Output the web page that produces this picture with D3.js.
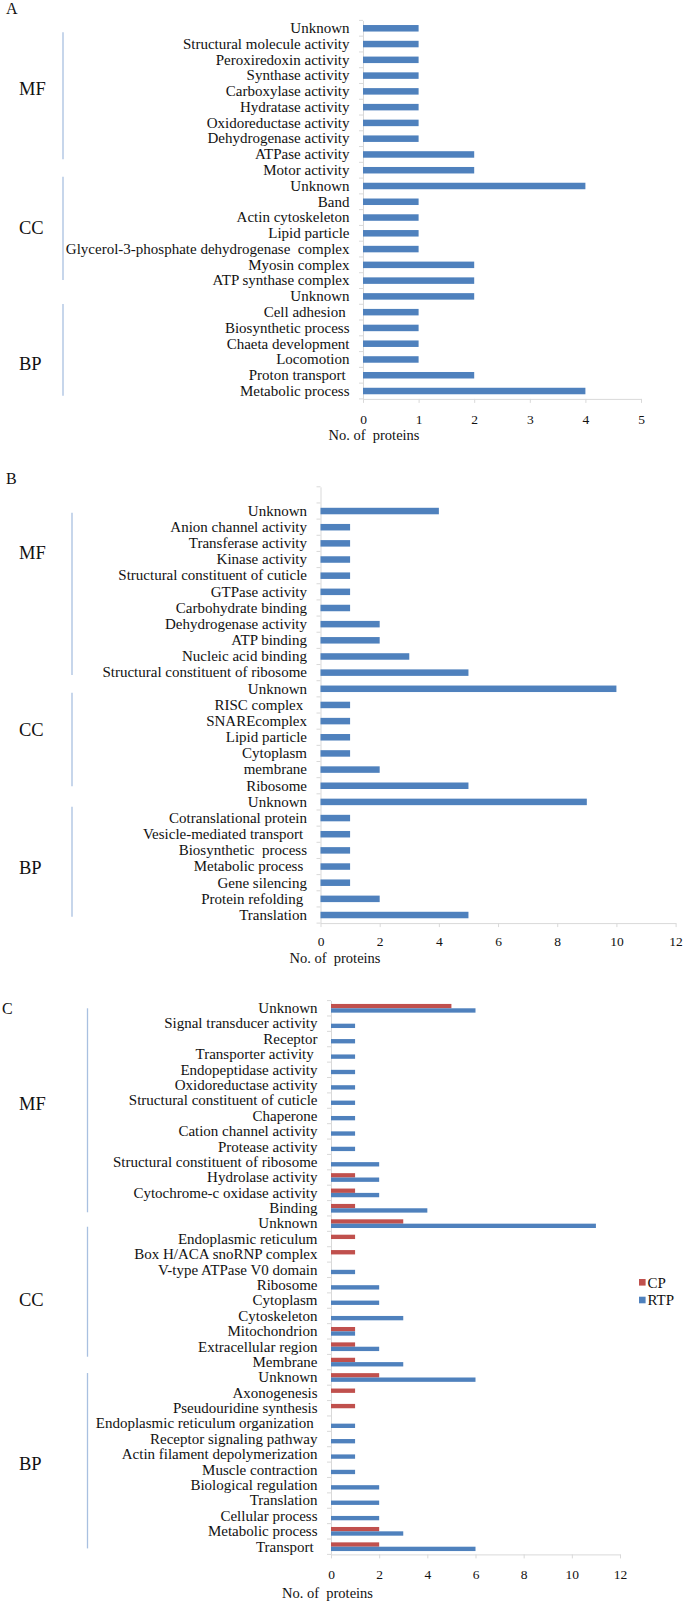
<!DOCTYPE html>
<html>
<head>
<meta charset="utf-8">
<script src="https://cdn.jsdelivr.net/npm/d3@7"></script>
<style>
  body { margin: 0; background: #fff; }
  text { font-family: 'Liberation Serif', 'Times New Roman', serif; white-space: pre; }
</style>
</head>
<body>
<div id="chart"></div>
<script>
// ---- data ----
const groupNames = ["MF", "CC", "BP"];

// panel A
const aLabels = ["Unknown", "Structural molecule activity", "Peroxiredoxin activity", "Synthase activity",
  "Carboxylase activity", "Hydratase activity", "Oxidoreductase activity", "Dehydrogenase activity",
  "ATPase activity", "Motor activity",
  "Unknown", "Band", "Actin cytoskeleton", "Lipid particle", "Glycerol-3-phosphate dehydrogenase  complex",
  "Myosin complex", "ATP synthase complex",
  "Unknown", "Cell adhesion ", "Biosynthetic process", "Chaeta development", "Locomotion",
  "Proton transport ", "Metabolic process"];
const aValues = [1, 1, 1, 1, 1, 1, 1, 1, 2, 2, 4, 1, 1, 1, 1, 2, 2, 2, 1, 1, 1, 1, 2, 4];
const aGroupSizes = [10, 7, 7];
const aTicks = [0, 1, 2, 3, 4, 5];

// panel B
const bLabels = ["Unknown", "Anion channel activity", "Transferase activity", "Kinase activity",
  "Structural constituent of cuticle", "GTPase activity", "Carbohydrate binding", "Dehydrogenase activity",
  "ATP binding", "Nucleic acid binding", "Structural constituent of ribosome",
  "Unknown", "RISC complex ", "SNAREcomplex", "Lipid particle", "Cytoplasm", "membrane", "Ribosome",
  "Unknown", "Cotranslational protein", "Vesicle-mediated transport ", "Biosynthetic  process",
  "Metabolic process ", "Gene silencing", "Protein refolding ", "Translation"];
const bValues = [4, 1, 1, 1, 1, 1, 1, 2, 2, 3, 5, 10, 1, 1, 1, 1, 2, 5, 9, 1, 1, 1, 1, 1, 2, 5];
const bGroupSizes = [11, 7, 8];
const bTicks = [0, 2, 4, 6, 8, 10, 12];

// panel C
const cLabels = ["Unknown", "Signal transducer activity", "Receptor", "Transporter activity ",
  "Endopeptidase activity", "Oxidoreductase activity", "Structural constituent of cuticle", "Chaperone",
  "Cation channel activity", "Protease activity", "Structural constituent of ribosome",
  "Hydrolase activity", "Cytochrome-c oxidase activity", "Binding",
  "Unknown", "Endoplasmic reticulum", "Box H/ACA snoRNP complex", "V-type ATPase V0 domain", "Ribosome",
  "Cytoplasm", "Cytoskeleton", "Mitochondrion", "Extracellular region", "Membrane",
  "Unknown", "Axonogenesis", "Pseudouridine synthesis", "Endoplasmic reticulum organization ",
  "Receptor signaling pathway", "Actin filament depolymerization", "Muscle contraction",
  "Biological regulation", "Translation", "Cellular process", "Metabolic process", "Transport "];
const cpValues  = [5, 0, 0, 0, 0, 0, 0, 0, 0, 0, 0, 1, 1, 1,  3, 1, 1, 0, 0, 0, 0, 1, 1, 1,  2, 1, 1, 0, 0, 0, 0, 0, 0, 0, 2, 2];
const rtpValues = [6, 1, 1, 1, 1, 1, 1, 1, 1, 1, 2, 2, 2, 4,  11, 0, 0, 1, 2, 2, 3, 1, 2, 3,  6, 0, 0, 1, 1, 1, 1, 2, 2, 2, 3, 6];
const cGroupSizes = [14, 10, 12];
const cTicks = [0, 2, 4, 6, 8, 10, 12];

const seriesNames = ["CP", "RTP"];
const colors = { CP: "#c0504d", RTP: "#4f81bd" };

// ---- layout ----
const W = 685, H = 1602;
const axisGray = "#d9d9d9";
const bracketColor = "#a9c0e0";
const serif = "'Liberation Serif', 'Times New Roman', serif";

const panels = [
  { letter: "A", letterX: 6, letterY: 14, labels: aLabels, groupSizes: aGroupSizes, ticks: aTicks,
    series: [{ name: "RTP", values: aValues }], blank: 0,
    top: 20.4, bottom: 398.9, x0: 363, x1: 641, barH: 6.5,
    bracketX: 63, brackets: [[0.75, 8.8], [9.91, 16.46], [17.98, 23.8]], groupRows: [4.35, 13.12, 21.74],
    tickDy: 20, titleDy: 36.5, titleX: 374 },
  { letter: "B", letterX: 6, letterY: 483.5, labels: bLabels, groupSizes: bGroupSizes, ticks: bTicks,
    series: [{ name: "RTP", values: bValues }], blank: 1,
    top: 486.8, bottom: 923.1, x0: 320.5, x1: 675.6, barH: 6.5,
    bracketX: 72, brackets: [[1.6, 11.65], [12.74, 18.53], [19.8, 26.6]], groupRows: [4.08, 14.99, 23.55],
    tickDy: 18, titleDy: 34.5, titleX: 335 },
  { letter: "C", letterX: 2, letterY: 1013.5, labels: cLabels, groupSizes: cGroupSizes, ticks: cTicks,
    series: [{ name: "CP", values: cpValues }, { name: "RTP", values: rtpValues }], blank: 0,
    top: 1000.6, bottom: 1554.4, x0: 331, x1: 620, barH: 8.7,
    bracketX: 87.5, brackets: [[0.5, 13.76], [14.7, 23.15], [24.21, 35.61]], groupRows: [6.68, 19.42, 30.08],
    tickDy: 19.5, titleDy: 38.5, titleX: 327.5, legend: { x: 639, y: 1282.3, step: 17.7 } }
];

const svg = d3.select("#chart").append("svg")
  .attr("width", W)
  .attr("height", H);

svg.append("rect").attr("width", W).attr("height", H).attr("fill", "#fff");

panels.forEach(drawPanel);

function drawPanel(p) {
  const n = p.labels.length;
  const g = svg.append("g");

  const y = d3.scaleBand()
    .domain(d3.range(-p.blank, n))
    .range([p.top, p.bottom]);
  const bw = y.bandwidth();

  const x = d3.scaleLinear()
    .domain([0, p.ticks[p.ticks.length - 1]])
    .range([p.x0, p.x1]);

  // panel letter
  g.append("text")
    .attr("x", p.letterX).attr("y", p.letterY)
    .attr("font-size", 16).attr("fill", "#111")
    .text(p.letter);

  // x axis
  const xAxis = d3.axisBottom(x)
    .tickValues(p.ticks)
    .tickFormat(d3.format("d"))
    .tickSize(4)
    .tickSizeOuter(0);
  g.append("g")
    .attr("transform", "translate(0," + p.bottom + ")")
    .call(xAxis)
    .call(a => a.select(".domain").attr("stroke", axisGray))
    .call(a => a.selectAll(".tick line").attr("stroke", axisGray))
    .call(a => a.selectAll(".tick text")
      .attr("y", p.tickDy).attr("dy", "0.35em")
      .attr("font-size", 13.5).attr("fill", "#111")
      .attr("font-family", serif));

  g.append("text")
    .attr("x", p.titleX).attr("y", p.bottom + p.titleDy)
    .attr("dy", "0.35em")
    .attr("text-anchor", "middle")
    .attr("font-size", 14.5).attr("fill", "#111")
    .text("No. of  proteins");

  // y axis with category labels
  const yAxis = d3.axisLeft(y)
    .tickSize(0)
    .tickSizeOuter(0)
    .tickPadding(13.5)
    .tickFormat(i => i < 0 ? "" : p.labels[i]);
  g.append("g")
    .attr("transform", "translate(" + p.x0 + ",0)")
    .call(yAxis)
    .call(a => a.select(".domain").attr("stroke", axisGray))
    .call(a => a.selectAll(".tick text")
      .attr("font-size", 15).attr("fill", "#111")
      .attr("font-family", serif));

  // tick marks between categories
  const bounds = y.domain().map(d => y(d)).concat([p.bottom]);
  g.selectAll("line.cat-tick")
    .data(bounds)
    .enter().append("line")
    .attr("class", "cat-tick")
    .attr("x1", p.x0 - 4).attr("x2", p.x0)
    .attr("y1", d => d).attr("y2", d => d)
    .attr("stroke", axisGray);

  // bars
  const inner = d3.scaleBand()
    .domain(p.series.map(s => s.name))
    .range([bw / 2 - p.barH / 2, bw / 2 + p.barH / 2]);

  p.series.forEach(s => {
    g.selectAll(".bar-" + s.name)
      .data(s.values.map((v, i) => ({ i: i, v: v })).filter(d => d.v > 0))
      .enter().append("rect")
      .attr("class", "bar-" + s.name)
      .attr("x", x(0))
      .attr("y", d => y(d.i) + inner(s.name))
      .attr("width", d => x(d.v) - x(0))
      .attr("height", inner.bandwidth())
      .attr("fill", colors[s.name]);
  });

  // group brackets and labels
  const y0 = y.range()[0];
  groupNames.forEach((name, k) => {
    const b = p.brackets[k];
    g.append("line")
      .attr("x1", p.bracketX).attr("x2", p.bracketX)
      .attr("y1", y0 + b[0] * bw).attr("y2", y0 + b[1] * bw)
      .attr("stroke", bracketColor).attr("stroke-width", 1.3);
    g.append("text")
      .attr("x", 19).attr("y", y0 + p.groupRows[k] * bw)
      .attr("dy", "0.35em")
      .attr("font-size", 18.5).attr("fill", "#111")
      .text(name);
  });

  // legend
  if (p.legend) {
    const lg = g.selectAll(".legend")
      .data(seriesNames)
      .enter().append("g")
      .attr("class", "legend")
      .attr("transform", (d, i) => "translate(" + p.legend.x + "," + (p.legend.y + i * p.legend.step) + ")");
    lg.append("rect")
      .attr("x", 0).attr("y", -3.3)
      .attr("width", 6.6).attr("height", 6.6)
      .attr("fill", d => colors[d]);
    lg.append("text")
      .attr("x", 8.5).attr("y", 0)
      .attr("dy", "0.35em")
      .attr("font-size", 15).attr("fill", "#111")
      .text(d => d);
  }
}
</script>
</body>
</html>
